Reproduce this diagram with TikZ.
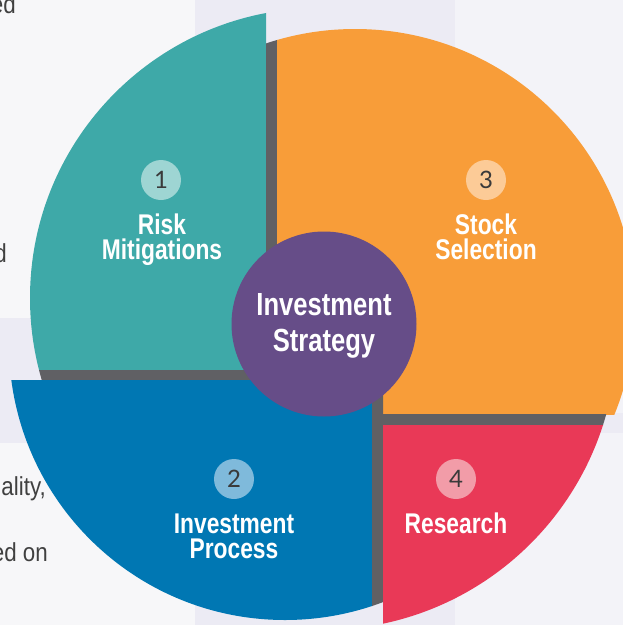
\documentclass[tikz,border=0pt]{standalone}
\usepackage{fontspec}
\newfontfamily\lblfont{Liberation Sans}[FakeStretch=0.8]
\newfontfamily\bodyfont{Liberation Sans}[FakeStretch=0.86]
\newfontfamily\numfont{Lato}
\definecolor{bgbase}{HTML}{F7F7F9}
\definecolor{bgright}{HTML}{F3F3F8}
\definecolor{bgband}{HTML}{ECEBF4}
\definecolor{cteal}{HTML}{3EA9A8}
\definecolor{corange}{HTML}{F89D39}
\definecolor{cblue}{HTML}{0077B3}
\definecolor{cred}{HTML}{E93957}
\definecolor{cpurple}{HTML}{664D88}
\definecolor{cgray}{HTML}{606064}
\definecolor{lteal}{HTML}{9ED5D3}
\definecolor{lorange}{HTML}{FCCB97}
\definecolor{lblue}{HTML}{7FBADB}
\definecolor{lred}{HTML}{F29CA8}
\definecolor{numgray}{HTML}{3A3A3A}
\definecolor{bodytext}{HTML}{404040}
\begin{document}
\begin{tikzpicture}[x=1pt,y=-1pt,
  numdot/.style={circle, minimum size=40pt, inner sep=0pt, font=\numfont\fontsize{24}{24}\selectfont, text=numgray},
  qlabel/.style={anchor=base, inner sep=0pt, text=white, font=\lblfont\bfseries\fontsize{28.5}{28.5}\selectfont},
  clabel/.style={anchor=base, inner sep=0pt, text=white, font=\lblfont\bfseries\fontsize{32}{32}\selectfont},
  sidetext/.style={anchor=base east, inner sep=0pt, text=bodytext, font=\bodyfont\fontsize{26}{26}\selectfont}]
\useasboundingbox (0,0) rectangle (623,625);
\clip (0,0) rectangle (623,625);
% background
\fill[bgbase] (0,0) rectangle (623,625);
\fill[bgright] (455,0) rectangle (623,625);
\fill[bgband] (195,0) rectangle (455,625);
\fill[bgband] (0,318) rectangle (195,443);
\fill[bgband] (455,413) rectangle (623,433);
% side text fragments
\node[sidetext] (t1) at (16,13) {ed};
\node[sidetext] (t2) at (7,262) {d};
\node[sidetext] (t3) at (46,495) {ality,};
\node[sidetext] (t4) at (48,561) {ed on};
% teal quadrant
\begin{scope}
  \clip (0,0) rectangle (266,370);
  \fill[cteal] (320,298) circle[radius=290pt];
\end{scope}
% gray strip A
\begin{scope}
  \clip (266,0) rectangle (277,380);
  \fill[cgray] (355,309) circle[radius=280pt];
\end{scope}
% orange quadrant
\begin{scope}
  \clip (277,0) rectangle (623,414);
  \fill[corange] (355,309) circle[radius=280pt];
\end{scope}
% gray strip B
\begin{scope}
  \clip (0,370) rectangle (277,380);
  \fill[cgray] (320,298) circle[radius=290pt];
\end{scope}
% blue quadrant
\begin{scope}
  \clip (0,380) rectangle (372,625);
  \fill[cblue] (285,344) circle[radius=276pt];
\end{scope}
% gray strip C
\begin{scope}
  \clip (372,380) rectangle (383,625);
  \fill[cgray] (285,344) circle[radius=276pt];
\end{scope}
% gray strip D
\begin{scope}
  \clip (372,414) rectangle (623,425);
  \fill[cgray] (322,335) circle[radius=295pt];
\end{scope}
% red quadrant
\begin{scope}
  \clip (383,425) rectangle (623,625);
  \fill[cred] (322,335) circle[radius=295pt];
\end{scope}
% centre
\node[circle, fill=cpurple, minimum size=185pt, inner sep=0pt] (strat) at (324,324) {};
\node[clabel] (strat1) at (324,315) {Investment};
\node[clabel] (strat2) at (324,351) {Strategy};
% numbers
\node[numdot, fill=lteal] (n1) at (161,180) {1};
\node[numdot, fill=lorange] (n3) at (486,180) {3};
\node[numdot, fill=lblue] (n2) at (234,479) {2};
\node[numdot, fill=lred] (n4) at (456,479) {4};
% labels
\node[qlabel] (l1a) at (162,234) {Risk};
\node[qlabel] (l1b) at (162,259) {Mitigations};
\node[qlabel] (l3a) at (486,234) {Stock};
\node[qlabel] (l3b) at (486,259) {Selection};
\node[qlabel] (l2a) at (234,533) {Investment};
\node[qlabel] (l2b) at (234,558) {Process};
\node[qlabel] (l4a) at (456,533) {Research};
\end{tikzpicture}
\end{document}
